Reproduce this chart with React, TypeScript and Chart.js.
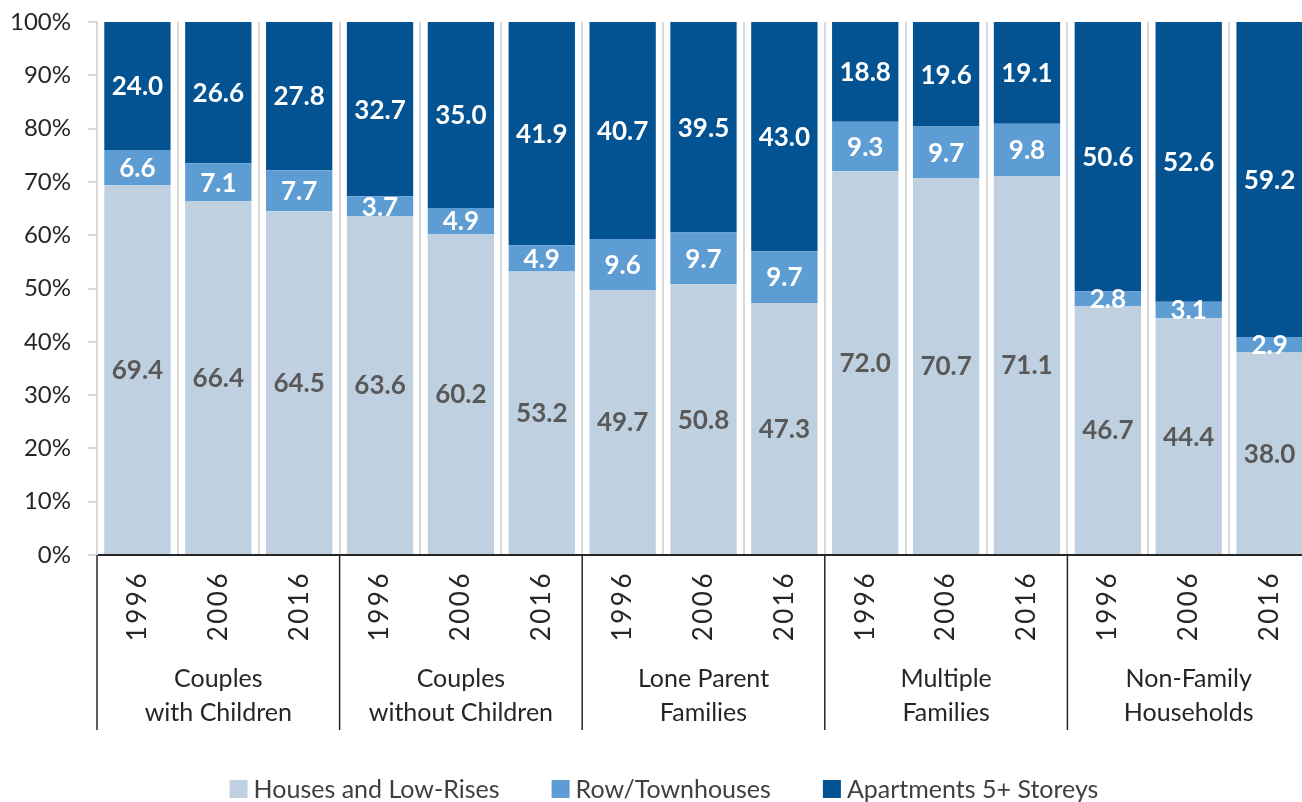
import React, { useEffect, useRef } from "react";
import { Chart, registerables } from "chart.js";

Chart.register(...registerables);

const groupNames: string[][] = [
  ["Couples", "with Children"],
  ["Couples", "without Children"],
  ["Lone Parent", "Families"],
  ["Multiple", "Families"],
  ["Non-Family", "Households"],
];
const years: string[] = ["1996", "2006", "2016"];

const housesLowRise: number[] = [69.4, 66.4, 64.5, 63.6, 60.2, 53.2, 49.7, 50.8, 47.3, 72.0, 70.7, 71.1, 46.7, 44.4, 38.0];
const rowTownhouses: number[] = [6.6, 7.1, 7.7, 3.7, 4.9, 4.9, 9.6, 9.7, 9.7, 9.3, 9.7, 9.8, 2.8, 3.1, 2.9];
const apartments5Plus: number[] = [24.0, 26.6, 27.8, 32.7, 35.0, 41.9, 40.7, 39.5, 43.0, 18.8, 19.6, 19.1, 50.6, 52.6, 59.2];

const seriesNames = ["Houses and Low-Rises", "Row/Townhouses", "Apartments 5+ Storeys"];
const seriesColors = ["#BFD1E0", "#5E9CD4", "#035392"];
const labelColors = ["#595959", "#FFFFFF", "#FFFFFF"];

const FONT = "Lato, 'Open Sans', sans-serif";

const categoryLabels: string[] = groupNames.flatMap((g) => years.map((y) => `${g.join(" ")} ${y}`));

export default function App() {
  const canvasRef = useRef<HTMLCanvasElement | null>(null);

  useEffect(() => {
    document.body.style.margin = "0";
    const canvas = canvasRef.current;
    if (!canvas) return;

    const overlay = {
      id: "overlay",
      afterDatasetsDraw(chart: any) {
        const ctx = chart.ctx as CanvasRenderingContext2D;
        chart.data.datasets.forEach((ds: any, di: number) => {
          const meta = chart.getDatasetMeta(di);
          meta.data.forEach((el: any, i: number) => {
            const v = ds.data[i];
            const { x, y, base } = el.getProps(["x", "y", "base"], true);
            ctx.save();
            ctx.font = `bold 26px ${FONT}`;
            ctx.fillStyle = labelColors[di];
            ctx.textAlign = "center";
            ctx.textBaseline = "middle";
            ctx.fillText(v.toFixed(1), x, (y + base) / 2 + 1);
            ctx.restore();
          });
        });
      },
      afterDraw(chart: any) {
        const ctx = chart.ctx as CanvasRenderingContext2D;
        const xs = chart.scales.x;
        const area = chart.chartArea;
        const n = chart.data.labels.length;
        const catW = (area.right - area.left) / n;
        // year labels
        ctx.save();
        ctx.font = `26px ${FONT}`;
        ctx.fillStyle = "#262626";
        for (let i = 0; i < n; i++) {
          const cx = xs.getPixelForValue(i);
          ctx.save();
          ctx.translate(cx, area.bottom + 16);
          ctx.rotate(-Math.PI / 2);
          ctx.textAlign = "right";
          ctx.textBaseline = "middle";
          (ctx as any).letterSpacing = "2.5px";
          ctx.fillText(years[i % 3], 0, 0);
          ctx.restore();
        }
        ctx.restore();
        // group separators and labels
        ctx.save();
        ctx.strokeStyle = "#262626";
        ctx.lineWidth = 1.5;
        for (let g = 0; g <= groupNames.length; g++) {
          const gx = area.left + g * 3 * catW;
          ctx.beginPath();
          ctx.moveTo(gx, area.bottom);
          ctx.lineTo(gx, 730);
          ctx.stroke();
        }
        ctx.font = `25px ${FONT}`;
        ctx.fillStyle = "#262626";
        ctx.textAlign = "center";
        ctx.textBaseline = "middle";
        groupNames.forEach((lines, g) => {
          const cx = xs.getPixelForValue(g * 3 + 1);
          lines.forEach((t, li) => ctx.fillText(t, cx, 679 + li * 34));
        });
        ctx.restore();
        // legend
        ctx.save();
        ctx.font = `25px ${FONT}`;
        ctx.textBaseline = "middle";
        ctx.textAlign = "left";
        const box = 18;
        const gap = 6;
        const spacing = 52;
        const widths = seriesNames.map((s) => box + gap + ctx.measureText(s).width);
        const total = widths.reduce((a, b) => a + b, 0) + spacing * (seriesNames.length - 1);
        let lx = 664 - total / 2;
        const ly = 789;
        seriesNames.forEach((s, i) => {
          ctx.fillStyle = seriesColors[i];
          ctx.fillRect(lx, ly - box / 2, box, box);
          ctx.fillStyle = "#404040";
          ctx.fillText(s, lx + box + gap, ly + 1);
          lx += widths[i] + spacing;
        });
        ctx.restore();
      },
    };

    const chart = new Chart(canvas, {
      type: "bar",
      data: {
        labels: categoryLabels,
        datasets: [
          { label: seriesNames[0], data: housesLowRise, backgroundColor: seriesColors[0] },
          { label: seriesNames[1], data: rowTownhouses, backgroundColor: seriesColors[1] },
          { label: seriesNames[2], data: apartments5Plus, backgroundColor: seriesColors[2] },
        ],
      },
      options: {
        animation: false,
        responsive: false,
        maintainAspectRatio: false,
        layout: { padding: { top: 22, left: 0, right: 0, bottom: 0 } },
        datasets: { bar: { categoryPercentage: 1, barPercentage: 0.82 } },
        plugins: { legend: { display: false }, tooltip: { enabled: false } },
        scales: {
          x: {
            stacked: true,
            ticks: { display: false },
            grid: { display: true, color: "#D9D9D9", lineWidth: 2, drawTicks: false, offset: true },
            border: { display: true, color: "#262626", width: 2 },
            afterFit: (scale: any) => {
              scale.height = 802 - 555;
              scale.paddingLeft = 0;
              scale.paddingRight = 0;
            },
          },
          y: {
            stacked: true,
            min: 0,
            max: 100,
            ticks: {
              stepSize: 10,
              padding: 17,
              color: "#262626",
              font: { family: FONT, size: 24 },
              callback: (v: any) => `${v}%`,
            },
            grid: { drawOnChartArea: false, drawTicks: true, tickLength: 9, color: "#D9D9D9", lineWidth: 2 },
            border: { display: true, color: "#D9D9D9", width: 2 },
            afterFit: (scale: any) => {
              scale.width = 97;
              scale.paddingTop = 0;
              scale.paddingBottom = 0;
            },
          },
        },
      },
      plugins: [overlay],
    });
    return () => chart.destroy();
  }, []);

  return (
    <div style={{ width: 1302, height: 802, overflow: "hidden", position: "relative", background: "#fff" }}>
      <canvas ref={canvasRef} width={1310} height={802} style={{ position: "absolute", left: 0, top: 0 }} />
    </div>
  );
}
